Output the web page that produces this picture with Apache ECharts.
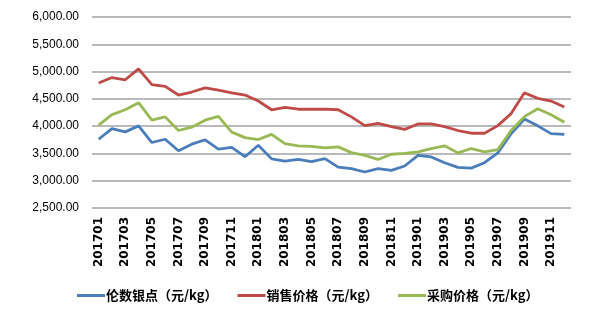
<!DOCTYPE html>
<html>
<head>
<meta charset="utf-8">
<script src="https://cdn.jsdelivr.net/npm/echarts@6/dist/echarts.min.js"></script>
<style>
  html, body { margin: 0; padding: 0; background: #fff; }
  #chart { width: 593px; height: 328px; }
</style>
</head>
<body>
<div id="chart"></div>
<script>
// Monthly prices, 2017-01 to 2019-12
const months = [
  '201701','201702','201703','201704','201705','201706','201707','201708','201709','201710','201711','201712',
  '201801','201802','201803','201804','201805','201806','201807','201808','201809','201810','201811','201812',
  '201901','201902','201903','201904','201905','201906','201907','201908','201909','201910','201911','201912'
];

const lunShuYinDian = [
  3760, 3955, 3895, 4005, 3700, 3760, 3550, 3670, 3750, 3580, 3610, 3440,
  3650, 3400, 3360, 3390, 3350, 3405, 3250, 3222, 3160, 3222, 3190, 3270,
  3466, 3435, 3330, 3245, 3230, 3330, 3510, 3860, 4130, 4005, 3863, 3848
];

const xiaoShouJiaGe = [
  4790, 4890, 4850, 5050, 4760, 4730, 4570, 4625, 4700, 4660, 4610, 4570,
  4460, 4300, 4345, 4310, 4310, 4310, 4300, 4170, 4010, 4050, 3990, 3940,
  4040, 4040, 3990, 3920, 3870, 3870, 4010, 4230, 4610, 4510, 4460, 4350
];

const caiGouJiaGe = [
  4020, 4210, 4300, 4430, 4110, 4170, 3920, 3980, 4110, 4180, 3890, 3790,
  3755, 3850, 3680, 3640, 3630, 3600, 3620, 3515, 3465, 3390, 3485, 3500,
  3530, 3590, 3640, 3510, 3590, 3530, 3570, 3920, 4175, 4320, 4210, 4070
];

const seriesNames = ['伦数银点（元/kg）', '销售价格（元/kg）', '采购价格（元/kg）'];
const seriesColors = ['#4a7ebb', '#be4b48', '#98b954'];

const chart = echarts.init(document.getElementById('chart'));

function lineSeries(name, data, color) {
  return {
    name: name,
    type: 'line',
    data: data,
    symbol: 'none',
    lineStyle: { color: color, width: 2.8 },
    itemStyle: { color: color },
    emphasis: { disabled: true }
  };
}

chart.setOption({
  animation: false,
  backgroundColor: '#ffffff',
  grid: { left: 92, right: 22, top: 17, bottom: 120 },
  xAxis: {
    type: 'category',
    data: months,
    boundaryGap: true,
    axisLine: { show: false },
    axisTick: { show: false },
    axisLabel: {
      interval: 1,
      rotate: 90,
      margin: 9,
      fontFamily: 'DejaVu Sans',
      fontWeight: 'bold',
      fontSize: 12,
      color: '#000'
    }
  },
  yAxis: {
    type: 'value',
    min: 2500,
    max: 6000,
    interval: 500,
    axisLine: { show: false },
    axisTick: { show: false },
    splitLine: { lineStyle: { color: '#a3a3a3', width: 1.5 } },
    axisLabel: {
      margin: 13,
      fontFamily: 'Liberation Sans',
      fontSize: 12,
      color: '#000',
      formatter: v => v.toLocaleString('en-US', { minimumFractionDigits: 2, maximumFractionDigits: 2 })
    }
  },
  legend: {
    bottom: 21,
    left: 72,
    icon: 'rect',
    itemWidth: 28,
    itemHeight: 3,
    itemGap: 20,
    textStyle: {
      fontFamily: 'Noto Sans CJK SC',
      fontWeight: 'bold',
      fontSize: 13,
      color: '#000',
      padding: [0, 0, 0, -4]
    },
    data: seriesNames
  },
  series: [
    lineSeries(seriesNames[0], lunShuYinDian, seriesColors[0]),
    lineSeries(seriesNames[1], xiaoShouJiaGe, seriesColors[1]),
    lineSeries(seriesNames[2], caiGouJiaGe, seriesColors[2])
  ]
});
</script>
</body>
</html>
